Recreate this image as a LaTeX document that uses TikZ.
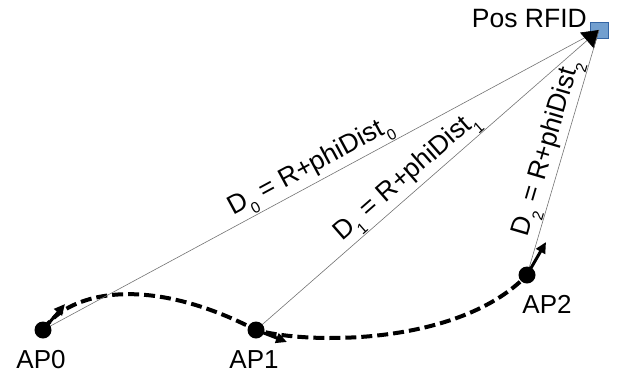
\documentclass[tikz,border=0pt]{standalone}
\usepackage{fontspec}
\setmainfont{Liberation Sans}
\usetikzlibrary{arrows.meta}
\definecolor{rfidblue}{RGB}{114,159,207}
\definecolor{rfidedge}{RGB}{52,101,164}
\newcommand\lowidx[1]{\raisebox{-0.34em}{\fontsize{15.5}{16}\selectfont #1}}
\begin{document}
\begin{tikzpicture}[x=1pt,y=-1pt,
  ap/.style={circle,fill=black,minimum size=17pt,inner sep=0pt},
  lbl/.style={font=\fontsize{26}{30}\selectfont,inner sep=0pt},
  ray/.style={draw=black!55,line width=0.6pt},
  track/.style={line width=4pt,dash pattern=on 11pt off 5pt},
  vec/.style={line width=3pt,-{Triangle[length=11pt,width=10pt]}},
  dlbl/.style={font=\fontsize{26.5}{30}\selectfont,sloped,above,inner sep=0.5pt}]
\useasboundingbox (0,0) rectangle (617,376);
% RFID position
\node[fill=rfidblue,draw=rfidedge,line width=0.5pt,minimum width=18pt,minimum height=16pt,inner sep=0pt] (rfid) at (599,30) {};
\node[lbl,font=\fontsize{26.5}{30}\selectfont,anchor=base east] (rfidlbl) at (587,27) {Pos RFID};
% access points (positions)
\coordinate (ap0) at (43,330);
\coordinate (ap1) at (256,330);
\coordinate (ap2) at (527,275);
% dashed trajectory
\draw[track] (ap0) .. controls (70,290) and (150,275) .. (ap1)
  .. controls (310,345) and (460,345) .. (ap2);
% distance rays
\draw[ray] (ap0) -- node[dlbl,pos=0.495] (d0) {D\lowidx{0} = R+phiDist\lowidx{0}} (rfid.center);
\draw[ray,-{Triangle[length=16pt,width=21pt,color=black]}] (ap1) -- node[dlbl,pos=0.47] (d1) {D\lowidx{1} = R+phiDist\lowidx{1}} (rfid.center);
\draw[ray] (ap2) -- node[dlbl,pos=0.50] (d2) {D\lowidx{2} = R+phiDist\lowidx{2}} (rfid.center);
% dots
\node[ap] (n0) at (ap0) {};
\node[ap] (n1) at (ap1) {};
\node[ap] (n2) at (ap2) {};
\node[lbl,anchor=base] (l0) at (41,368) {AP0};
\node[lbl,anchor=base] (l1) at (254,368) {AP1};
\node[lbl,anchor=base] (l2) at (547,313) {AP2};
% direction vectors
\coordinate (v0) at (65,304);
\coordinate (v1) at (287,342);
\coordinate (v2) at (546,242);
\draw[vec] (n0.center) -- (v0);
\draw[vec] (n1.center) -- (v1);
\draw[vec] (n2.center) -- (v2);
\end{tikzpicture}
\end{document}
